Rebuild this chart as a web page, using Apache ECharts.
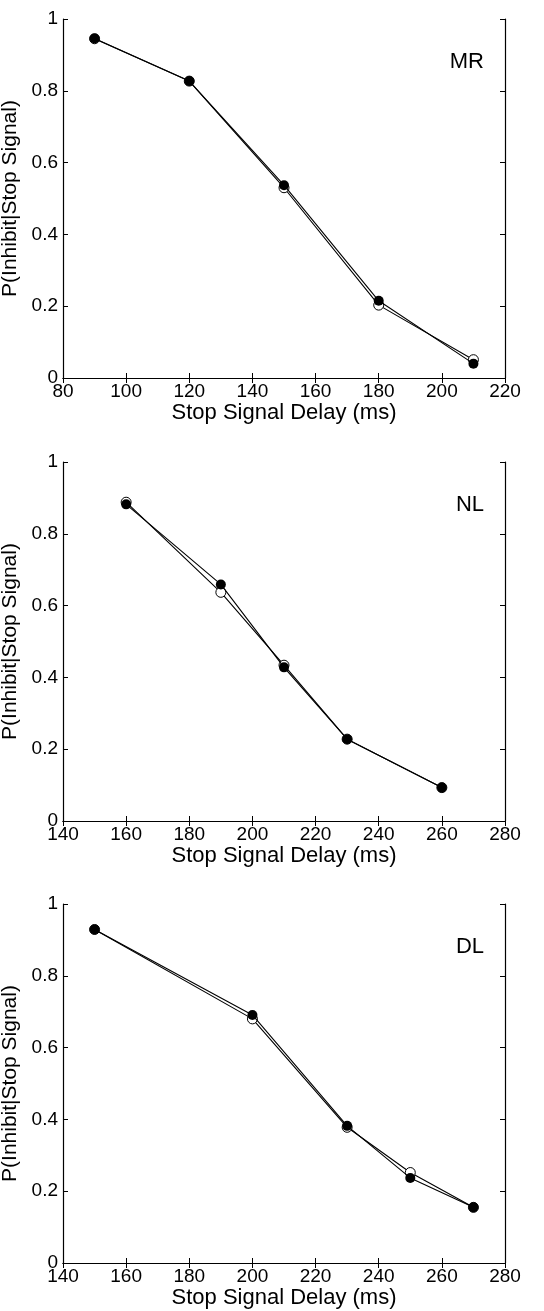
<!DOCTYPE html>
<html>
<head>
<meta charset="utf-8">
<script src="https://cdn.jsdelivr.net/npm/echarts@6/dist/echarts.min.js"></script>
<style>
html,body{margin:0;padding:0;background:#fff;}
#c{width:544px;height:1311px;}
</style>
</head>
<body>
<div id="c"></div>
<script>
// Data
const panelNames = ['MR', 'NL', 'DL'];
const xMR = [90, 120, 150, 180, 210];
const openMR = [0.945, 0.827, 0.530, 0.203, 0.051];
const filledMR = [0.946, 0.827, 0.537, 0.215, 0.040];
const xNL = [160, 190, 210, 230, 260];
const openNL = [0.888, 0.637, 0.434, 0.228, 0.093];
const filledNL = [0.882, 0.659, 0.428, 0.228, 0.093];
const xDL = [150, 200, 230, 250, 270];
const openDL = [0.929, 0.680, 0.378, 0.252, 0.155];
const filledDL = [0.929, 0.691, 0.382, 0.237, 0.155];
const xRanges = [[80, 220], [140, 280], [140, 280]];
const xTitle = 'Stop Signal Delay (ms)';
const yTitle = 'P(Inhibit|Stop Signal)';

const panels = [
  {x: xMR, open: openMR, filled: filledMR},
  {x: xNL, open: openNL, filled: filledNL},
  {x: xDL, open: openDL, filled: filledDL}
];

const FONT = '"Liberation Sans", Arial, Helvetica, sans-serif';
const tops = [19, 462, 904];
const grid = [], xAxis = [], yAxis = [], series = [], graphic = [];
const lineStyleAxis = {show: true, lineStyle: {color: '#000', width: 1.2}};
const tickIn = {show: true, inside: true, length: 5, lineStyle: {color: '#000', width: 1}};

panels.forEach((p, i) => {
  grid.push({left: 63, top: tops[i], width: 442, height: 359, containLabel: false, outerBoundsMode: 'none'});
  const xr = xRanges[i];
  xAxis.push({
    type: 'value', gridIndex: i, position: 'bottom', min: xr[0], max: xr[1], interval: 20,
    axisLine: lineStyleAxis, axisTick: tickIn, splitLine: {show: false},
    axisLabel: {color: '#000', fontSize: 19, fontFamily: FONT, margin: 4},
    name: xTitle, nameLocation: 'middle', nameGap: 20,
    nameTextStyle: {color: '#000', fontSize: 22, fontFamily: FONT, verticalAlign: 'top'}
  });
  xAxis.push({
    type: 'value', gridIndex: i, position: 'top', min: xr[0], max: xr[1], interval: 20,
    axisLine: lineStyleAxis, axisTick: tickIn, splitLine: {show: false},
    axisLabel: {show: false}
  });
  yAxis.push({
    type: 'value', gridIndex: i, position: 'left', min: 0, max: 1, interval: 0.2,
    axisLine: lineStyleAxis, axisTick: tickIn, splitLine: {show: false},
    axisLabel: {color: '#000', fontSize: 19, fontFamily: FONT, margin: 5},
    name: yTitle, nameLocation: 'middle', nameGap: 38, nameRotate: 90,
    nameTextStyle: {color: '#000', fontSize: 21, fontFamily: FONT}
  });
  yAxis.push({
    type: 'value', gridIndex: i, position: 'right', min: 0, max: 1, interval: 0.2,
    axisLine: lineStyleAxis, axisTick: tickIn, splitLine: {show: false},
    axisLabel: {show: false}
  });
  series.push({
    type: 'line', xAxisIndex: 2 * i, yAxisIndex: 2 * i,
    data: p.x.map((v, k) => [v, p.open[k]]),
    symbol: 'circle', symbolSize: 10,
    itemStyle: {color: '#fff', borderColor: '#000', borderWidth: 1},
    lineStyle: {color: '#000', width: 1.1}, z: 2, animation: false
  });
  series.push({
    type: 'line', xAxisIndex: 2 * i, yAxisIndex: 2 * i,
    data: p.x.map((v, k) => [v, p.filled[k]]),
    symbol: 'circle', symbolSize: 10,
    itemStyle: {color: '#000', borderColor: '#000', borderWidth: 0},
    lineStyle: {color: '#000', width: 1.1}, z: 3, animation: false
  });
  graphic.push({
    type: 'text', right: 544 - 484, top: tops[i] + 32,
    style: {text: panelNames[i], fill: '#000', font: '22px ' + FONT}
  });
});

const chart = echarts.init(document.getElementById('c'), null, {renderer: 'canvas'});
chart.setOption({
  animation: false,
  backgroundColor: '#fff',
  grid, xAxis, yAxis, series, graphic
});
</script>
</body>
</html>
